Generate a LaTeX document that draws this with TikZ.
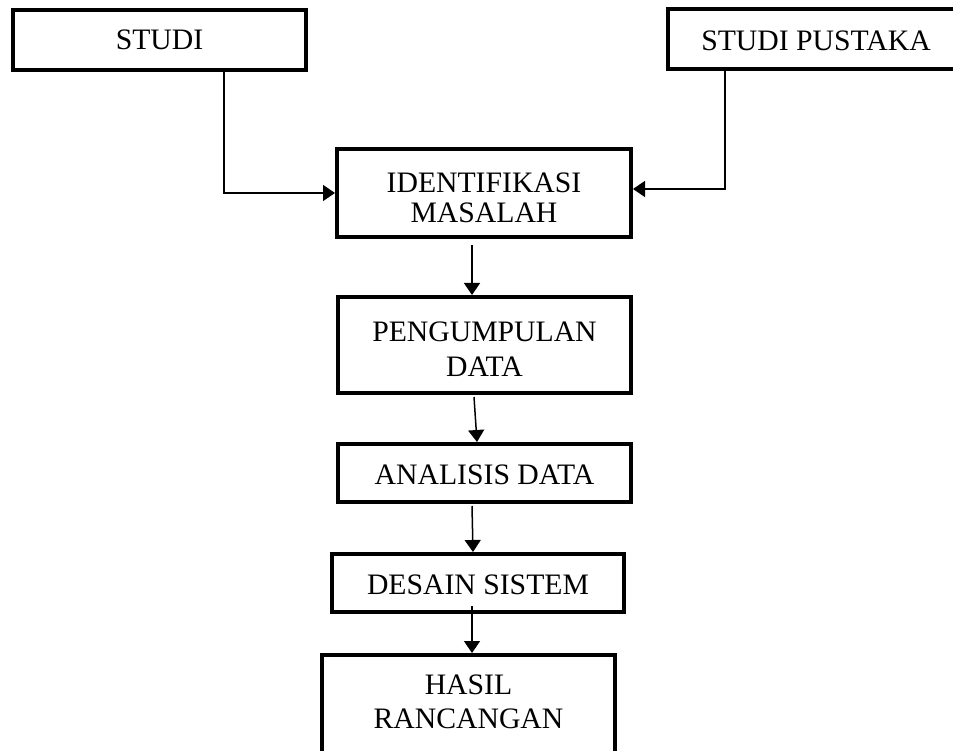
\documentclass[tikz,border=0pt]{standalone}
\usepackage{fontspec}
\setmainfont{Liberation Serif}
\usetikzlibrary{arrows.meta}
\begin{document}
\begin{tikzpicture}[x=1pt,y=-1pt,
  box/.style={draw, line width=4pt, inner sep=0pt, align=center,
    font=\fontsize{29.7}{34}\selectfont},
  conn/.style={line width=1.5pt, -{Triangle[length=12pt,width=16pt]}}]
\useasboundingbox (0,0) rectangle (953,751);
\node[box, minimum width=293pt, minimum height=60pt] (studi) at (159.5,40) {STUDI};
\node[box, minimum width=296pt, minimum height=60pt] (pustaka) at (816,39) {\rule{0pt}{24pt}STUDI PUSTAKA};
\node[box, minimum width=294pt, minimum height=88pt, font=\fontsize{29.7}{30}\selectfont] (ident) at (484,193) {\rule{0pt}{30pt}IDENTIFIKASI\\MASALAH};
\node[box, minimum width=293pt, minimum height=96pt, font=\fontsize{29.7}{35}\selectfont] (kumpul) at (484.5,345) {\rule{0pt}{28pt}PENGUMPULAN\\DATA};
\node[box, minimum width=293pt, minimum height=58pt] (analisis) at (484.5,473) {\rule{0pt}{24pt}ANALISIS DATA};
\node[box, minimum width=292pt, minimum height=58pt] (desain) at (478,583) {\rule{0pt}{24pt}DESAIN SISTEM};
\node[box, minimum width=293pt, minimum height=101pt] (hasil) at (468.5,705.5) {HASIL\\RANCANGAN\rule[-8pt]{0pt}{8pt}};
\coordinate (c1) at (224,72);
\coordinate (c2) at (725,71);
\coordinate (c3) at (472,245);
\coordinate (c4) at (474,397);
\coordinate (c5) at (472,506);
\coordinate (c6) at (472,606);
\draw[conn] (c1) |- (ident.west);
\draw[conn] (c2) |- ([yshift=4pt]ident.east);
\draw[conn] (c3) -- (c3 |- kumpul.north);
\draw[conn] (c4) -- ([xshift=-7.5pt]analisis.north);
\draw[conn] (c5) -- ([xshift=-5pt]desain.north);
\draw[conn] (c6) -- (c6 |- hasil.north);
\end{tikzpicture}
\end{document}
